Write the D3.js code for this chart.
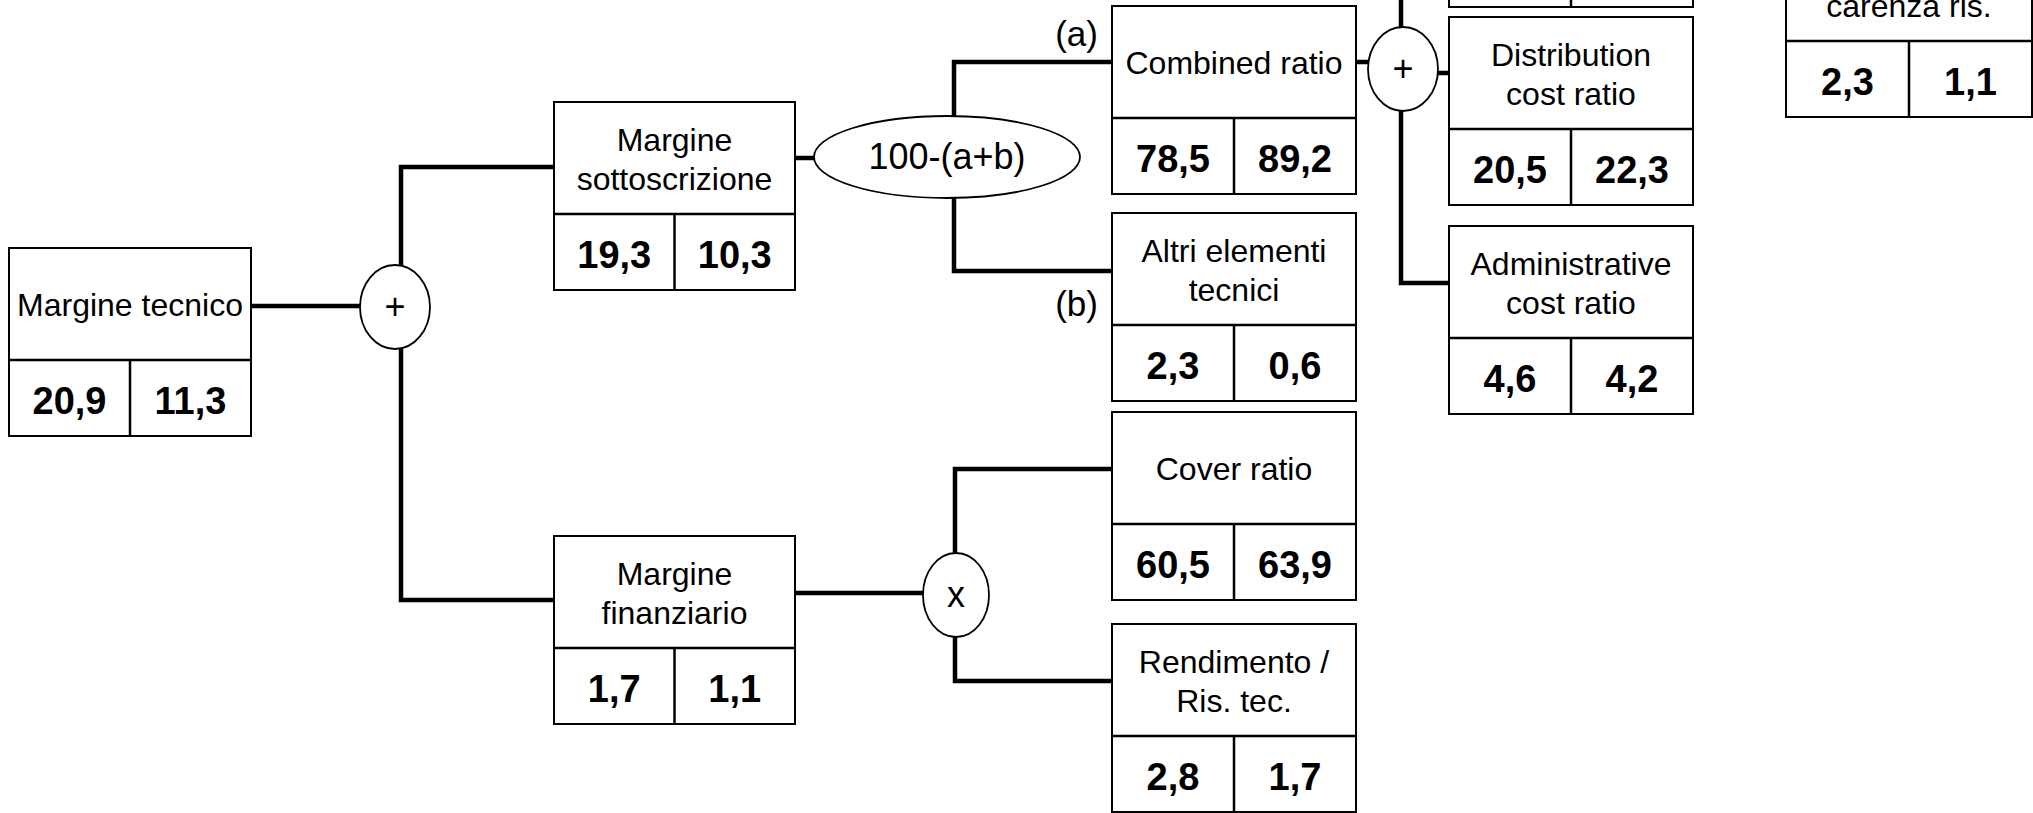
<!DOCTYPE html>
<html lang="it">
<head>
    <meta charset="UTF-8">
    <title>Albero margine tecnico</title>
    <style>
        body { margin: 0; overflow: hidden; background: #fff; }
        svg text { font-family: "Liberation Sans", Arial, sans-serif; fill: #000; }
    </style>
</head>
<body>
    <div id="chart"></div>

    <script src="https://d3js.org/d3.v7.min.js"></script>
    <script>
        // Data: box labels and the two values shown under each box
        const nodeLabels = [
            ["Margine tecnico"],
            ["Margine", "sottoscrizione"],
            ["Margine", "finanziario"],
            ["Combined ratio"],
            ["Altri elementi", "tecnici"],
            ["Cover ratio"],
            ["Rendimento /", "Ris. tec."],
            ["Distribution", "cost ratio"],
            ["Administrative", "cost ratio"],
            ["", ""],              // box cut off at the top edge
            ["", "carenza ris."]   // only the second line is visible
        ];
        const valuesA = ["20,9", "19,3", "1,7", "78,5", "2,3", "60,5", "2,8", "20,5", "4,6", "", "2,3"];
        const valuesB = ["11,3", "10,3", "1,1", "89,2", "0,6", "63,9", "1,7", "22,3", "4,2", "", "1,1"];

        const operators = ["+", "100-(a+b)", "+", "x"];
        const branchTags = ["(a)", "(b)"];

        // Layout (pixels of the 2033x813 picture)
        const width = 2033, height = 813;
        const titleH = 112, valueH = 76;

        const colX = d3.scaleOrdinal().domain([0, 1, 2, 3, 4]).range([9, 554, 1112, 1449, 1786]);
        const colW = d3.scaleOrdinal().domain([0, 1, 2, 3, 4]).range([242, 241, 244, 244, 246]);
        const nodeCol = [0, 1, 1, 2, 2, 2, 2, 3, 3, 3, 4];
        const nodeTop = [248, 102, 536, 6, 213, 412, 624, 17, 226, -181, -71];

        const opPos = [
            { cx: 395, cy: 307, rx: 35, ry: 42 },
            { cx: 947, cy: 157, rx: 133, ry: 41 },
            { cx: 1403, cy: 69, rx: 35, ry: 42 },
            { cx: 956, cy: 595, rx: 33, ry: 42 }
        ];
        const tagPos = [{ x: 1098, y: 46 }, { x: 1098, y: 316 }];

        const links = [
            [[251, 306], [395, 306]],
            [[554, 167], [401, 167], [401, 600], [554, 600]],
            [[795, 158], [947, 158]],
            [[1112, 62], [954, 62], [954, 271], [1112, 271]],
            [[1356, 62], [1403, 62]],
            [[1401, -10], [1401, 283], [1449, 283]],
            [[1403, 73], [1449, 73]],
            [[795, 593], [956, 593]],
            [[1112, 469], [955, 469], [955, 681], [1112, 681]]
        ];

        const svg = d3.select("#chart").append("svg")
            .attr("width", width)
            .attr("height", height);

        // connectors first, ellipses and boxes are drawn over them
        const line = d3.line();
        svg.append("g").selectAll("path")
            .data(links)
            .enter().append("path")
            .attr("d", line)
            .attr("fill", "none")
            .attr("stroke", "#000")
            .attr("stroke-width", 4.5);

        const ops = svg.append("g").selectAll("g")
            .data(operators)
            .enter().append("g");
        ops.append("ellipse")
            .attr("cx", (d, i) => opPos[i].cx)
            .attr("cy", (d, i) => opPos[i].cy)
            .attr("rx", (d, i) => opPos[i].rx)
            .attr("ry", (d, i) => opPos[i].ry)
            .attr("fill", "#fff")
            .attr("stroke", "#000")
            .attr("stroke-width", 1.8);
        ops.append("text")
            .attr("x", (d, i) => opPos[i].cx)
            .attr("y", (d, i) => opPos[i].cy + 12)
            .attr("text-anchor", "middle")
            .attr("font-size", 36)
            .text(d => d);

        svg.append("g").selectAll("text")
            .data(branchTags)
            .enter().append("text")
            .attr("x", (d, i) => tagPos[i].x)
            .attr("y", (d, i) => tagPos[i].y)
            .attr("text-anchor", "end")
            .attr("font-size", 35)
            .text(d => d);

        // boxes
        const nodes = svg.append("g").selectAll("g")
            .data(nodeLabels)
            .enter().append("g")
            .attr("transform", (d, i) => `translate(${colX(nodeCol[i])},${nodeTop[i]})`);

        nodes.append("rect")
            .attr("width", (d, i) => colW(nodeCol[i]))
            .attr("height", titleH + valueH)
            .attr("fill", "#fff")
            .attr("stroke", "#000")
            .attr("stroke-width", 2);
        nodes.append("line")
            .attr("x1", 0)
            .attr("x2", (d, i) => colW(nodeCol[i]))
            .attr("y1", titleH)
            .attr("y2", titleH)
            .attr("stroke", "#000")
            .attr("stroke-width", 2.5);
        nodes.append("line")
            .attr("x1", (d, i) => colW(nodeCol[i]) / 2)
            .attr("x2", (d, i) => colW(nodeCol[i]) / 2)
            .attr("y1", titleH)
            .attr("y2", titleH + valueH)
            .attr("stroke", "#000")
            .attr("stroke-width", 2.5);

        nodes.each(function (lines, i) {
            const g = d3.select(this);
            const w = colW(nodeCol[i]);
            const lineGap = 39;
            const y0 = titleH / 2 + 12 - (lines.length - 1) * lineGap / 2;
            g.selectAll("text.title")
                .data(lines)
                .enter().append("text")
                .attr("class", "title")
                .attr("x", w / 2)
                .attr("y", (d, k) => y0 + k * lineGap)
                .attr("text-anchor", "middle")
                .attr("font-size", 32)
                .text(d => d);
            g.selectAll("text.val")
                .data([valuesA[i], valuesB[i]])
                .enter().append("text")
                .attr("class", "val")
                .attr("x", (d, k) => w / 4 + k * w / 2)
                .attr("y", titleH + valueH / 2 + 16)
                .attr("text-anchor", "middle")
                .attr("font-size", 38)
                .attr("font-weight", "bold")
                .text(d => d);
        });
    </script>
</body>
</html>
